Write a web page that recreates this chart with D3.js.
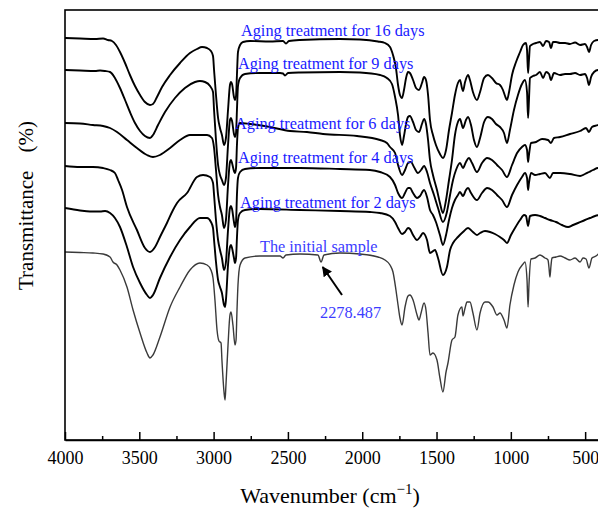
<!DOCTYPE html>
<html><head><meta charset="utf-8">
<script src="https://cdn.jsdelivr.net/npm/d3@7/dist/d3.min.js"></script>
<style>body{margin:0;background:#fff}svg{display:block}</style>
</head><body>
<svg id="c" width="598" height="509"></svg>
<script>
// ---- DATA: [wavenumber (cm-1), transmittance (a.u., stacked)] ----
const xTicksMajor = [4000,3500,3000,2500,2000,1500,1000,500];
const xTicksMinor = [3750,3250,2750,2250,1750,1250,750];
const seriesLabels = ["Aging treatment for 16 days","Aging treatment for 9 days","Aging treatment for 6 days","Aging treatment for 4 days","Aging treatment for 2 days","The initial sample"];

const days16 = [[4000,402],[3899,401.5],[3798,401],[3744,401.5],[3711,400],[3684,399],[3657,395],[3630,388],[3596,377],[3563,365],[3529,354],[3495,345],[3462,338],[3428,335],[3408,336],[3381,343],[3347,353],[3293,365],[3226,377],[3159,387],[3112,391],[3078,393],[3044,392],[3018,389],[3004,384],[2997,370],[2984,345],[2970,322],[2957,312],[2944,305],[2930,295],[2917,302],[2903,330],[2890,355],[2883,358],[2876,356],[2863,343],[2856,340],[2849,344],[2843,365],[2836,388],[2822,395],[2802,398],[2755,399],[2621,398.5],[2533,399],[2513,396.5],[2493,399],[2419,400],[2150,401],[2015,400.5],[1894,398.5],[1847,397],[1813,393],[1793,385],[1773,372],[1759,355],[1746,345],[1732,342],[1719,350],[1705,362],[1692,368],[1679,367],[1658,360],[1638,352],[1618,350],[1598,357],[1584,363],[1571,360],[1557,345],[1544,320],[1524,305],[1504,295],[1477,286],[1457,282],[1436,290],[1416,310],[1396,327],[1376,345],[1356,357],[1342,360],[1329,352],[1322,349],[1308,358],[1288,365],[1275,360],[1255,348],[1228,340],[1207,348],[1180,362],[1154,365],[1127,362],[1100,357],[1073,355],[1053,350],[1039,344],[1026,340],[1012,348],[992,365],[965,378],[938,388],[918,395],[898,397],[891,390],[884,367],[878,380],[871,394],[851,396],[830,397],[804,398],[783,394],[763,399],[743,398],[730,392],[716,398],[696,398],[669,397],[635,397],[602,396],[568,397.5],[534,395],[501,396],[487,393],[474,388],[460,395],[440,399],[413,400],[400,400]];

const days9 = [[4000,370],[3899,369.5],[3798,369],[3764,369.5],[3731,369],[3697,368],[3664,362],[3630,352],[3596,340],[3563,328],[3529,317],[3495,309],[3462,304],[3428,302],[3408,305],[3374,315],[3327,328],[3260,342],[3193,352],[3125,358],[3092,359],[3058,358],[3024,354],[3004,348],[2997,330],[2984,300],[2970,275],[2957,265],[2944,260],[2930,255],[2917,262],[2903,295],[2890,320],[2883,322],[2876,319],[2863,306],[2856,303],[2849,307],[2843,330],[2836,354],[2822,362],[2789,366],[2688,367],[2553,367],[2533,366.5],[2520,364.5],[2499,367],[2419,367.5],[2150,368],[2015,367.5],[1880,365],[1834,362],[1800,356],[1779,343],[1759,325],[1746,305],[1732,295],[1719,304],[1705,316],[1692,323],[1679,324],[1658,318],[1638,310],[1618,308],[1598,316],[1584,321],[1571,316],[1557,300],[1544,280],[1524,265],[1497,250],[1477,237],[1457,227],[1436,240],[1416,260],[1396,280],[1376,305],[1356,318],[1342,321],[1322,312],[1302,320],[1288,323],[1268,315],[1248,300],[1228,293],[1207,302],[1180,318],[1154,323],[1127,321],[1100,316],[1073,313],[1046,307],[1026,297],[1006,310],[979,330],[952,345],[925,356],[905,360],[891,348],[884,322],[878,340],[871,362],[851,364],[830,365],[804,368],[783,362],[763,368],[743,366],[730,360],[710,367],[669,365],[635,366],[602,366],[568,367],[534,365],[501,366],[487,362],[474,355],[460,363],[440,368],[413,370],[400,370]];

const days6 = [[4000,317],[3899,316.5],[3812,315],[3744,314],[3697,312],[3650,308],[3583,300],[3516,292],[3448,285],[3408,283],[3361,285],[3293,292],[3226,300],[3159,305],[3092,305],[3044,305],[3011,302],[2997,292],[2984,270],[2970,245],[2957,233],[2944,225],[2930,212],[2917,220],[2903,255],[2890,278],[2883,280],[2876,277],[2863,269],[2856,267],[2849,272],[2843,295],[2836,312],[2822,317],[2755,316],[2621,313],[2486,309],[2372,308],[2264,306],[2035,304],[1880,300],[1834,297],[1813,293],[1779,287],[1759,275],[1732,265],[1712,270],[1692,277],[1672,278],[1652,273],[1625,267],[1604,270],[1584,274],[1564,268],[1544,257],[1517,245],[1490,232],[1457,218],[1430,228],[1409,245],[1389,260],[1369,270],[1342,277],[1322,272],[1302,278],[1282,282],[1261,277],[1228,268],[1194,277],[1160,282],[1127,280],[1093,275],[1059,270],[1026,263],[992,275],[958,287],[925,293],[905,295],[891,290],[884,278],[878,285],[864,297],[830,298],[790,301],[750,300],[730,297],[710,302],[669,303],[602,306],[534,309],[494,312],[474,308],[454,313],[413,315],[400,316]];

const days4 = [[4000,274],[3899,273],[3812,273],[3744,272],[3697,270],[3664,267],[3643,260],[3616,250],[3583,233],[3516,210],[3462,192],[3428,188],[3394,193],[3361,203],[3314,217],[3273,230],[3246,237],[3179,247],[3112,263],[3071,265],[3024,263],[3004,257],[2997,245],[2984,220],[2970,200],[2957,190],[2944,182],[2930,170],[2917,178],[2903,210],[2890,232],[2883,234],[2876,231],[2863,218],[2856,213],[2849,218],[2843,245],[2836,262],[2822,268],[2789,271],[2688,272],[2419,272],[2150,271],[1948,270],[1880,268],[1813,263],[1779,255],[1759,247],[1732,242],[1712,247],[1692,252],[1679,252],[1658,247],[1631,242],[1611,244],[1584,250],[1564,243],[1544,230],[1524,225],[1504,218],[1477,205],[1457,195],[1436,205],[1416,220],[1396,232],[1376,240],[1356,245],[1342,248],[1322,244],[1302,250],[1288,252],[1268,247],[1228,240],[1194,247],[1160,252],[1127,250],[1093,245],[1059,240],[1026,233],[992,245],[958,255],[925,263],[905,267],[891,262],[884,250],[878,257],[864,267],[837,265],[804,266],[770,267],[737,262],[716,267],[669,267],[602,266],[534,264],[501,266],[474,268],[447,270],[413,272],[400,272]];

const days2 = [[4000,232],[3899,229.5],[3832,228.5],[3764,228.5],[3730,229],[3697,227],[3664,222],[3630,213],[3583,193],[3542,173],[3495,157],[3448,145],[3428,142],[3408,145],[3361,162],[3293,183],[3226,200],[3159,213],[3092,222],[3044,222],[3018,218],[3004,212],[2997,200],[2984,178],[2970,160],[2957,153],[2944,147],[2930,135],[2923,133],[2917,140],[2903,175],[2890,193],[2883,195],[2876,192],[2863,182],[2856,177],[2849,182],[2843,202],[2836,220],[2822,227],[2789,230],[2688,231],[2419,230],[2150,229],[1948,228],[1880,227],[1813,224],[1779,218],[1759,212],[1732,206],[1712,208],[1692,212],[1679,211],[1658,205],[1631,200],[1611,203],[1591,207],[1564,200],[1544,187],[1510,190],[1490,182],[1457,165],[1430,173],[1409,190],[1389,197],[1356,203],[1322,208],[1288,212],[1255,208],[1228,205],[1207,207],[1174,209],[1140,208],[1107,206],[1073,203],[1046,200],[1026,197],[999,205],[972,212],[938,220],[911,225],[898,224],[884,214],[871,224],[837,225],[804,224],[770,222],[737,220],[696,218],[656,215],[615,213],[581,215],[548,217],[501,220],[467,222],[433,224],[400,225]];

const initial = [[4000,188],[3899,187.5],[3812,187],[3744,186],[3697,183],[3677,178],[3650,175],[3630,170],[3583,153],[3542,130],[3495,107],[3448,87],[3428,82],[3408,85],[3361,103],[3293,133],[3226,153],[3159,170],[3092,177],[3044,175],[3018,170],[3004,162],[2991,140],[2977,110],[2964,99],[2950,97],[2944,80],[2930,48],[2923,40],[2917,55],[2903,95],[2890,125],[2883,128],[2870,115],[2856,95],[2849,100],[2843,128],[2836,155],[2822,175],[2789,182],[2688,184],[2553,184],[2533,182],[2513,185],[2419,186],[2298,185],[2277,178],[2257,185],[2150,187],[2015,186],[1894,183],[1847,180],[1813,175],[1793,168],[1773,150],[1759,135],[1746,122],[1732,115],[1712,133],[1692,144],[1679,145],[1658,140],[1631,125],[1618,120],[1604,127],[1584,137],[1571,130],[1557,107],[1544,85],[1524,87],[1497,80],[1477,62],[1457,48],[1436,68],[1423,77],[1396,100],[1376,103],[1356,125],[1329,133],[1322,124],[1308,132],[1295,138],[1275,138],[1255,127],[1228,110],[1207,127],[1174,138],[1154,138],[1120,133],[1093,125],[1073,127],[1046,120],[1026,112],[1006,135],[979,155],[952,168],[918,176],[905,178],[891,160],[884,133],[878,155],[864,181],[837,182],[804,185],[770,182],[750,180],[743,172],[737,163],[730,174],[723,182],[696,183],[669,184],[635,182],[602,180],[568,182],[534,178],[514,182],[494,181],[474,172],[454,182],[427,184],[400,188]];

const peakLabel = "2278.487";

// ---- LAYOUT (not data) ----
const series = [days16, days9, days6, days4, days2, initial];
const labelAnchors = [[2816,404],[2836,371],[2856,311],[2836,277],[2822,232],[2688,188]];
const peakTextAnchor = [2284,122];
const arrowFrom = [2136,145], arrowTo = [2266,173];

const svg = d3.select("#c");
const x = d3.scaleLinear().domain([4000,400]).range([65,600]);
const y = d3.scaleLinear().domain([0,430]).range([440,10]);
const FONT = "'Liberation Serif','Times New Roman',Times,serif";

svg.append("defs").append("clipPath").attr("id","clip")
  .append("rect").attr("x",65).attr("y",10).attr("width",535).attr("height",430);
svg.select("defs").append("marker").attr("id","ah").attr("viewBox","0 0 10 10")
  .attr("refX",9).attr("refY",5).attr("markerWidth",5).attr("markerHeight",5)
  .attr("orient","auto").attr("markerUnits","strokeWidth")
  .append("path").attr("d","M0,0 L10,5 L0,10 Z").attr("fill","#000");

const line = d3.line().x(d=>x(d[0])).y(d=>y(d[1])).curve(d3.curveMonotoneX);
const g = svg.append("g").attr("clip-path","url(#clip)");
series.forEach((s,i)=>{
  g.append("path").datum(s).attr("d",line).attr("fill","none")
   .attr("stroke", i===5 ? "#3a3a3a" : "#000")
   .attr("stroke-width", i===5 ? 1.4 : 1.9)
   .attr("stroke-linejoin","round");
});

// frame
svg.append("rect").attr("x",65).attr("y",10).attr("width",535).attr("height",430)
  .attr("fill","none").attr("stroke","#000").attr("stroke-width",1.6);

// x axis
const ax = svg.append("g").attr("transform","translate(0,440)")
  .call(d3.axisBottom(x).tickValues(xTicksMajor).tickFormat(d3.format("d"))
        .tickSize(-8).tickSizeOuter(0).tickPadding(11));
ax.select(".domain").attr("stroke","#000").attr("stroke-width",1.6);
ax.selectAll(".tick line").attr("stroke","#000").attr("stroke-width",1.5);
ax.selectAll(".tick text").attr("font-family",FONT).attr("font-size",18).attr("fill","#000");
const axm = svg.append("g").attr("transform","translate(0,440)")
  .call(d3.axisBottom(x).tickValues(xTicksMinor).tickFormat("").tickSize(-4).tickSizeOuter(0));
axm.select(".domain").remove();
axm.selectAll(".tick line").attr("stroke","#000").attr("stroke-width",1.5);

// axis titles
const xt = svg.append("text").attr("x",330).attr("y",503).attr("text-anchor","middle")
  .attr("font-family",FONT).attr("font-size",22).attr("fill","#000");
xt.append("tspan").text("Wavenumber (cm");
xt.append("tspan").attr("dy",-9).attr("font-size",15).text("\u22121");
xt.append("tspan").attr("dy",9).text(")");

const yt = svg.append("text").attr("transform","translate(33,290) rotate(-90)")
  .attr("font-family",FONT).attr("font-size",21).attr("fill","#000");
yt.append("tspan").text("Transmittance");
yt.append("tspan").attr("dx",18).text("(%)");

// labels
svg.selectAll("text.lab").data(seriesLabels).enter().append("text").attr("class","lab")
  .attr("x",(d,i)=>x(labelAnchors[i][0])).attr("y",(d,i)=>y(labelAnchors[i][1]))
  .attr("font-family",FONT).attr("font-size",16.3)
  .attr("fill",(d,i)=> i===5 ? "#3c3cff" : "#1a1aff").text(d=>d);

svg.append("text").attr("x",x(peakTextAnchor[0])).attr("y",y(peakTextAnchor[1]))
  .attr("font-family",FONT).attr("font-size",16.3).attr("fill","#3c3cff").text(peakLabel);

svg.append("line").attr("x1",x(arrowFrom[0])).attr("y1",y(arrowFrom[1]))
  .attr("x2",x(arrowTo[0])).attr("y2",y(arrowTo[1]))
  .attr("stroke","#000").attr("stroke-width",2).attr("marker-end","url(#ah)");
</script>
</body></html>
